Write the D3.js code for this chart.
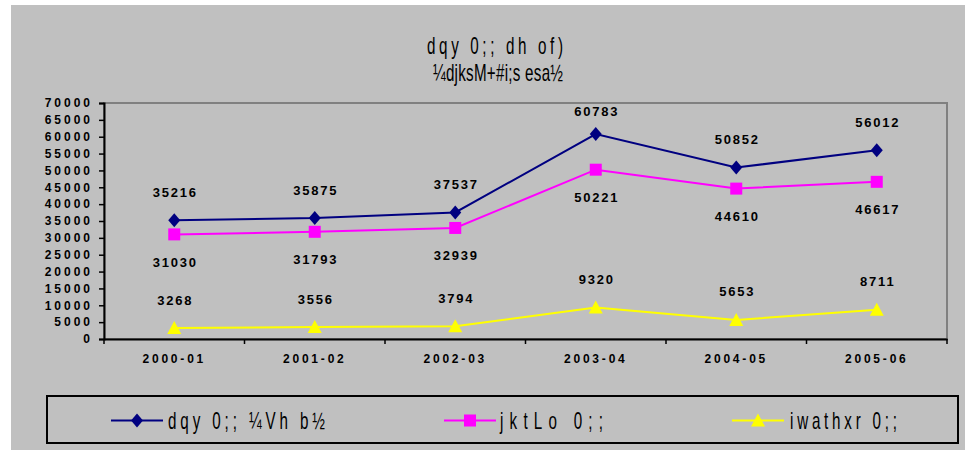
<!DOCTYPE html>
<html><head><meta charset="utf-8">
<script src="https://cdn.jsdelivr.net/npm/d3@7"></script>
<style>
html,body{margin:0;padding:0;background:#fff;}
svg{display:block;}
</style></head>
<body>
<svg id="chart" width="965" height="451"></svg>
<script>
const categories = ["2000-01","2001-02","2002-03","2003-04","2004-05","2005-06"];
const totalExp   = [35216, 35875, 37537, 60783, 50852, 56012];
const revenueExp = [31030, 31793, 32939, 50221, 44610, 46617];
const capitalExp = [3268, 3556, 3794, 9320, 5653, 8711];
const yTicks = [0,5000,10000,15000,20000,25000,30000,35000,40000,45000,50000,55000,60000,65000,70000];
const titleLines = ["dqy 0;; dh of)", "¼djksM+#i;s esa½"];
const seriesNames = ["dqy 0;; ¼Vh b½", "jktLo 0;;", "iwathxr 0;;"];

const svg = d3.select("#chart");
const W = 965, H = 451;
const bg = "#C0C0C0";
svg.append("rect").attr("x",11).attr("y",5).attr("width",W-11).attr("height",H-6).attr("fill",bg);

const plot = {left:104, right:947, top:103, bottom:339};
const x = d3.scaleBand().domain(categories).range([plot.left, plot.right]).paddingInner(0).paddingOuter(0);
const y = d3.scaleLinear().domain([0,70000]).range([plot.bottom, plot.top]);

const sansFont = "'Liberation Sans',Arial,sans-serif";
const SX = 0.66; // horizontal condensing for the narrow legacy-font text

function narrowText(xPos, yPos, str, len, anchor){
  const g = svg.append("g").attr("transform",`translate(${xPos},${yPos}) scale(${SX},1)`);
  g.append("text").attr("x",0).attr("y",0).attr("dy","0.36em")
    .attr("text-anchor",anchor).attr("font-family",sansFont).attr("font-size",23).attr("fill","#000")
    .attr("textLength",len/SX).attr("lengthAdjust","spacing")
    .text(str);
}

// titles
narrowText(495, 46, titleLines[0], 136, "middle");
narrowText(498, 73, titleLines[1], 130, "middle");

// plot area border (top/right gray)
svg.append("rect").attr("x",plot.left).attr("y",plot.top).attr("width",plot.right-plot.left).attr("height",plot.bottom-plot.top)
  .attr("fill",bg).attr("stroke","#808080").attr("stroke-width",2);

// axes
const yAxis = d3.axisLeft(y).tickValues(yTicks).tickSize(5).tickPadding(6).tickFormat(d3.format("d"));
const gy = svg.append("g").attr("transform",`translate(${plot.left},0)`).call(yAxis);
gy.select(".domain").attr("stroke","#000").attr("stroke-width",2);
gy.selectAll(".tick line").attr("stroke","#000").attr("stroke-width",1.5);
gy.selectAll(".tick text").attr("font-family",sansFont).attr("font-weight","bold")
  .attr("font-size",12).attr("letter-spacing",3).attr("fill","#000");

const xAxis = d3.axisBottom(x).tickSize(0).tickPadding(15);
const gx = svg.append("g").attr("transform",`translate(0,${plot.bottom})`).call(xAxis);
gx.select(".domain").attr("stroke","#000").attr("stroke-width",2);
gx.selectAll(".tick text").attr("font-family",sansFont).attr("font-weight","bold")
  .attr("font-size",12).attr("letter-spacing",2.8).attr("fill","#000");
// category boundary ticks
const bounds = categories.map(c=>x(c)).concat([x(categories[categories.length-1])+x.bandwidth()]);
gx.selectAll(".bt").data(bounds).enter().append("line")
  .attr("x1",d=>d).attr("x2",d=>d).attr("y1",0).attr("y2",5).attr("stroke","#000").attr("stroke-width",1.5);

const cx = c => x(c) + x.bandwidth()/2;
const line = d3.line().x((d,i)=>cx(categories[i])).y(d=>y(d));

const series = [
  {vals: totalExp, color:"#000080", marker:"diamond", labelOff:-28},
  {vals: revenueExp, color:"#FF00FF", marker:"square", labelOff:28},
  {vals: capitalExp, color:"#FFFF00", marker:"triangle", labelOff:-28},
];

function markerPath(type){
  if(type==="diamond") return "M0,-7L6,0L0,7L-6,0Z";
  if(type==="square") return "M-6,-6L6,-6L6,6L-6,6Z";
  return "M0,-7L7,6L-7,6Z";
}

series.forEach(s=>{
  svg.append("path").datum(s.vals).attr("d",line).attr("fill","none").attr("stroke",s.color).attr("stroke-width",2);
  svg.selectAll(null).data(s.vals).enter().append("path")
    .attr("transform",(d,i)=>`translate(${cx(categories[i])},${y(d)})`)
    .attr("d",markerPath(s.marker)).attr("fill",s.color);
  svg.selectAll(null).data(s.vals).enter().append("text")
    .attr("x",(d,i)=>cx(categories[i])+1)
    .attr("y",d=>Math.max(y(d)+s.labelOff, plot.top+8))
    .attr("dy","0.35em").attr("text-anchor","middle")
    .attr("font-family",sansFont).attr("font-weight","bold")
    .attr("font-size",13).attr("letter-spacing",1.8).attr("fill","#000")
    .text(d=>d);
});

// legend
svg.append("rect").attr("x",47).attr("y",396).attr("width",911).attr("height",47)
  .attr("fill",bg).attr("stroke","#000").attr("stroke-width",2);
const legendItems = [
  {x1:111, x2:163, tx:168, len:157},
  {x1:444, x2:496, tx:500, len:103},
  {x1:732, x2:784, tx:790, len:107},
];
const ly = 420.5;
series.forEach((s,i)=>{
  const li = legendItems[i];
  svg.append("line").attr("x1",li.x1).attr("x2",li.x2).attr("y1",ly).attr("y2",ly).attr("stroke",s.color).attr("stroke-width",2);
  svg.append("path").attr("transform",`translate(${(li.x1+li.x2)/2},${ly})`).attr("d",markerPath(s.marker)).attr("fill",s.color);
  narrowText(li.tx, ly, seriesNames[i], li.len, "start");
});
</script>
</body></html>
